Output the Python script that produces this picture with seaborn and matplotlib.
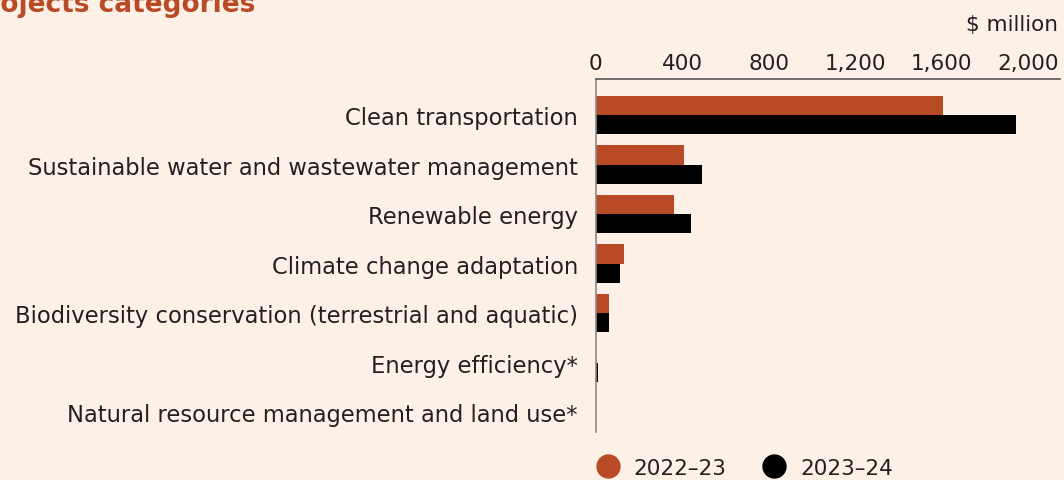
import numpy as np
import pandas as pd
import seaborn as sns
from matplotlib import pyplot as plt
from matplotlib.lines import Line2D

# values ($ million)
categories = ["Clean transportation",
              "Sustainable water and wastewater management",
              "Renewable energy",
              "Climate change adaptation",
              "Biodiversity conservation (terrestrial and aquatic)",
              "Energy efficiency*",
              "Natural resource management and land use*"]
y2022 = [1605, 408, 362, 130, 60, 0, 0]
y2023 = [1945, 490, 440, 112, 60, 8, 0]
years = ["2022\u201323", "2023\u201324"]
colors = ["#B84A26", "#000000"]
xticks = [0, 400, 800, 1200, 1600, 2000]

bg = "#FDF0E7"
txt = "#231F20"

df = pd.DataFrame({"category": categories * 2,
                   "value": y2022 + y2023,
                   "year": [years[0]] * len(categories) + [years[1]] * len(categories)})

sns.set_theme(style="white")
plt.rcParams["font.family"] = ["DejaVu Sans"]

fig = plt.figure(figsize=(10.64, 4.81), dpi=100, facecolor=bg)
ax = fig.add_axes([0.560, 0.100, 0.436, 0.734])
ax.set_facecolor(bg)

sns.barplot(data=df, x="value", y="category", hue="year", palette=colors,
            orient="h", width=0.77, saturation=1, legend=False,
            linewidth=0, ax=ax)

ax.set_xlim(0, 2146)
ax.set_ylim(6.4, -0.73)
ax.set_xlabel("")
ax.set_ylabel("")
ax.xaxis.tick_top()
ax.set_xticks(xticks)
ax.set_xticklabels([f"{v:,}" for v in xticks], fontsize=15.5, color=txt)
ax.tick_params(axis="x", length=0, pad=4)
ax.tick_params(axis="y", length=0, pad=13, labelsize=16.3, labelcolor=txt)

for s in ["right", "bottom"]:
    ax.spines[s].set_visible(False)
ax.spines["top"].set_color("#555555")
ax.spines["top"].set_linewidth(1.2)
ax.spines["left"].set_color("#8a8a8a")
ax.spines["left"].set_linewidth(1.2)

fig.text(0.240, 0.975, "Projects categories", fontsize=19, fontweight="bold",
         color="#B84A26", ha="right", va="baseline")
fig.text(0.994, 0.948, "$ million", fontsize=15.5, color=txt, ha="right", va="center")

handles = [Line2D([], [], marker="o", linestyle="", markersize=16.5,
                  markerfacecolor=c, markeredgecolor=c) for c in colors]
fig.legend(handles, years, loc="center left", bbox_to_anchor=(0.533, 0.025),
           ncol=2, frameon=False, fontsize=15.5, handletextpad=0.2,
           columnspacing=1.2, labelcolor=txt)

fig.savefig("out.png", dpi=100, facecolor=bg)
